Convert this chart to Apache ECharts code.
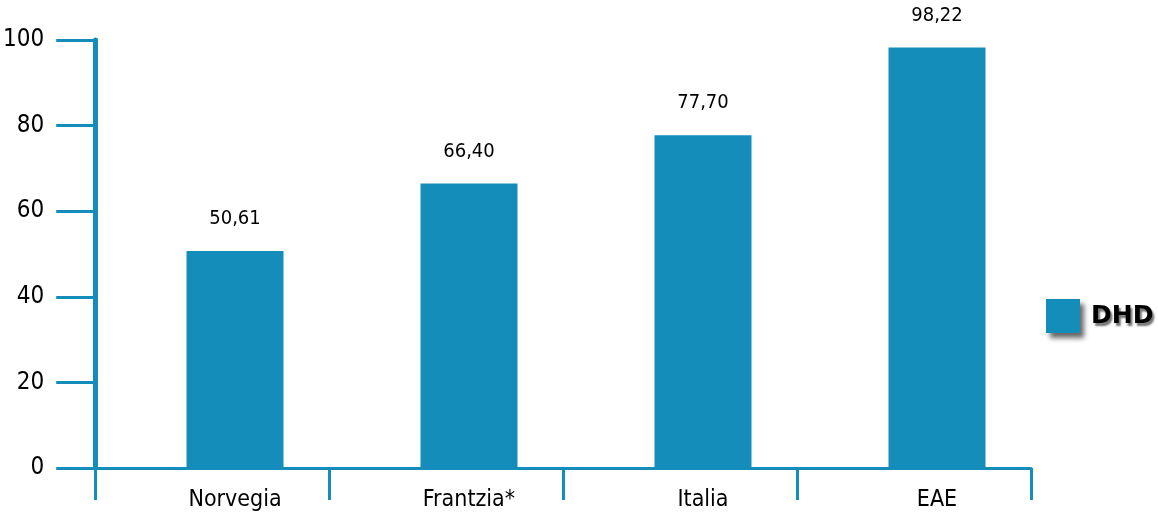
<!DOCTYPE html>
<html>
<head>
<meta charset="utf-8">
<script src="https://cdn.jsdelivr.net/npm/echarts@6/dist/echarts.min.js"></script>
<style>
html,body{margin:0;padding:0;background:#fff;}
#c{width:1158px;height:512px;}
</style>
</head>
<body>
<div id="c"></div>
<script>
const categories = ['Norvegia', 'Frantzia*', 'Italia', 'EAE'];
const dhdValues = [50.61, 66.40, 77.70, 98.22];
const seriesName = 'DHD';
const yTicks = [0, 20, 40, 60, 80, 100];

const blue = '#158dbb';
const narrow = "'DejaVu Sans Condensed', 'Liberation Sans Narrow', sans-serif";

const chart = echarts.init(document.getElementById('c'), null, {renderer: 'canvas'});
chart.setOption({
  animation: false,
  backgroundColor: '#fff',
  grid: [
    {left: 94, right: 127, top: 40, bottom: 44},
    {left: 118, right: 104, top: 40, bottom: 44}
  ],
  legend: {
    left: 1046, top: 299, padding: 0,
    itemWidth: 34, itemHeight: 34,
    icon: 'rect',
    data: [seriesName],
    itemStyle: {shadowBlur: 5, shadowColor: 'rgba(0,0,0,0.6)', shadowOffsetX: 4, shadowOffsetY: 5},
    textStyle: {
      fontFamily: "'DejaVu Sans', sans-serif", fontWeight: 'bold', fontSize: 25, color: '#000',
      padding: [0, 0, 0, 6],
      textShadowColor: 'rgba(0,0,0,0.55)', textShadowBlur: 2, textShadowOffsetX: 2, textShadowOffsetY: 3
    }
  },
  xAxis: [
    {
      type: 'category', gridIndex: 0, data: categories, boundaryGap: true,
      axisLine: {show: true, lineStyle: {color: blue, width: 3}},
      axisTick: {show: true, length: 32, lineStyle: {color: blue, width: 3}},
      axisLabel: {show: false}
    },
    {
      type: 'category', gridIndex: 1, data: categories, boundaryGap: true,
      axisLine: {show: false}, axisTick: {show: false},
      axisLabel: {show: true, margin: 22, fontFamily: narrow, fontSize: 23, color: '#000'}
    }
  ],
  yAxis: [
    {
      type: 'value', gridIndex: 0, min: 0, max: 100, interval: 20,
      axisLine: {show: true, lineStyle: {color: blue, width: 5}},
      axisTick: {show: true, length: 39, lineStyle: {color: blue, width: 3}},
      splitLine: {show: false},
      axisLabel: {
        margin: 51, fontFamily: narrow, fontSize: 24, color: '#000',
        formatter: v => yTicks.includes(v) ? String(v) : ''
      }
    },
    {
      type: 'value', gridIndex: 1, min: 0, max: 100, interval: 20, show: false
    }
  ],
  series: [{
    name: seriesName,
    type: 'bar',
    xAxisIndex: 1, yAxisIndex: 1,
    data: dhdValues,
    barWidth: 97,
    itemStyle: {color: blue},
    label: {
      show: true, position: 'top', distance: 22,
      fontFamily: narrow, fontSize: 20, color: '#000',
      formatter: p => p.value.toFixed(2).replace('.', ',')
    }
  }]
});
</script>
</body>
</html>
